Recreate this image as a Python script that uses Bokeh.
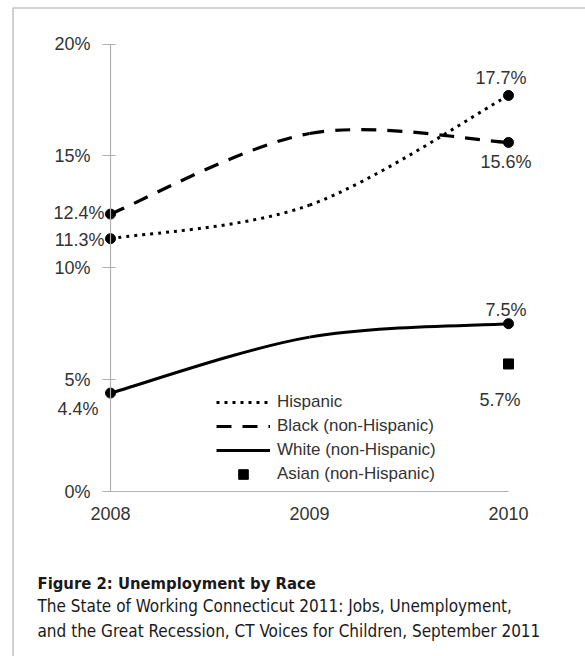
from bokeh.plotting import figure
from bokeh.models import (ColumnDataSource, FixedTicker, Legend, LegendItem, Label,
                          BoxAnnotation, Range1d)
from bokeh.embed import file_html
from bokeh.resources import INLINE
from bokeh.core.properties import value

# ---------------- data ----------------
years = [2008, 2009, 2010]
hispanic = [11.3, 12.8, 17.7]
black = [12.4, 16.0, 15.6]
white = [4.4, 6.9, 7.5]
asian_years = [2010]
asian = [5.7]
series_names = ["Hispanic", "Black (non-Hispanic)", "White (non-Hispanic)", "Asian (non-Hispanic)"]
y_ticks = [0, 5, 10, 15, 20]
y_tick_labels = ["0%", "5%", "10%", "15%", "20%"]
x_ticks = [2008, 2009, 2010]
x_tick_labels = ["2008", "2009", "2010"]
title_text = "Figure 2: Unemployment by Race"
caption_lines = ["The State of Working Connecticut 2011: Jobs, Unemployment,",
                 "and the Great Recession, CT Voices for Children, September 2011"]

# ---------------- layout ----------------
W, H = 585, 656
PX_2008, PX_2010 = 110.0, 508.0      # screen x of first/last year
PX_Y0, PX_Y20 = 491.0, 43.5          # screen y of 0% and 20%
px_per_year = (PX_2010 - PX_2008) / (x_ticks[-1] - x_ticks[0])
px_per_pct = (PX_Y0 - PX_Y20) / (y_ticks[-1] - y_ticks[0])
x_start = x_ticks[0] - PX_2008 / px_per_year
x_end = x_start + W / px_per_year
y_end = y_ticks[-1] + PX_Y20 / px_per_pct
y_start = y_end - H / px_per_pct

def xdata(px):
    return x_start + px / px_per_year

def ydata(py):
    return y_end - py / px_per_pct

TXT = "#333333"
FONT = "Liberation Sans"
CAP_FONT = "DejaVu Sans Condensed"

p = figure(width=W, height=H, output_backend="svg", toolbar_location=None,
           x_range=Range1d(x_start, x_end), y_range=Range1d(y_start, y_end),
           min_border=0, min_border_left=0, min_border_right=0,
           min_border_top=0, min_border_bottom=0)
p.outline_line_color = None
p.xgrid.visible = False
p.ygrid.visible = False
p.background_fill_color = "white"
p.border_fill_color = "white"

# axes at fixed locations inside the frame
ya = p.yaxis[0]
ya.fixed_location = x_ticks[0]
ya.ticker = FixedTicker(ticks=y_ticks)
ya.major_label_overrides = {t: l for t, l in zip(y_ticks, y_tick_labels)}
ya.bounds = (y_ticks[0], y_ticks[-1])
ya.axis_line_color = "#b0b0b0"
ya.axis_line_width = 1.2
ya.major_tick_line_color = "#b0b0b0"
ya.major_tick_line_width = 1.2
ya.major_tick_in = 5
ya.major_tick_out = 8
ya.minor_tick_line_color = None
ya.major_label_standoff = 12
ya.major_label_text_font = FONT
ya.major_label_text_font_size = "18px"
ya.major_label_text_color = TXT

xa = p.xaxis[0]
xa.fixed_location = y_ticks[0]
xa.ticker = FixedTicker(ticks=x_ticks)
xa.major_label_overrides = {t: l for t, l in zip(x_ticks, x_tick_labels)}
xa.bounds = (x_ticks[0], x_ticks[-1])
xa.axis_line_color = "#b0b0b0"
xa.axis_line_width = 1.2
xa.major_tick_line_color = None
xa.major_tick_in = 0
xa.major_tick_out = 0
xa.minor_tick_line_color = None
xa.major_label_standoff = 15
xa.major_label_text_font = FONT
xa.major_label_text_font_size = "18px"
xa.major_label_text_color = TXT

# border box (only top & left visible)
p.add_layout(BoxAnnotation(left=xdata(12.5), top=ydata(7.5), right=x_end + 1, bottom=y_start - 1,
                           fill_alpha=0, line_color="#3a3a3a", line_width=1.6))

# ---------------- smooth curves (Bezier from data) ----------------
def bezier_source(xs, ys):
    n = len(xs)
    c = lambda a, i: a[min(max(i, 0), n - 1)]
    d = dict(x0=[], y0=[], x1=[], y1=[], cx0=[], cy0=[], cx1=[], cy1=[])
    for i in range(n - 1):
        d["x0"].append(xs[i]); d["y0"].append(ys[i])
        d["x1"].append(xs[i + 1]); d["y1"].append(ys[i + 1])
        d["cx0"].append(xs[i] + (c(xs, i + 1) - c(xs, i - 1)) / 6)
        d["cy0"].append(ys[i] + (c(ys, i + 1) - c(ys, i - 1)) / 6)
        d["cx1"].append(xs[i + 1] - (c(xs, i + 2) - c(xs, i)) / 6)
        d["cy1"].append(ys[i + 1] - (c(ys, i + 2) - c(ys, i)) / 6)
    return ColumnDataSource(d)

styles = [dict(line_dash="3 5", line_width=3),
          dict(line_dash="15 11", line_width=3.2),
          dict(line_dash="solid", line_width=3)]
renderers = []
for ys, st in zip([hispanic, black, white], styles):
    r = p.bezier(x0="x0", y0="y0", x1="x1", y1="y1", cx0="cx0", cy0="cy0", cx1="cx1", cy1="cy1",
                 source=bezier_source(years, ys), line_color="black", **st)
    renderers.append(r)

# endpoint markers
ends = [0, len(years) - 1]
for ys in [hispanic, black, white]:
    p.scatter(x=[years[i] for i in ends], y=[ys[i] for i in ends], marker="circle",
              size=10, color="black")
r_asian = p.scatter(x=asian_years, y=asian, marker="square", size=10, color="black")
renderers.append(r_asian)

# ---------------- data labels ----------------
# (dx, dy, align) screen offsets per series for first / last point
label_layout = {
    0: [(-6, 1, "right"), (-7.5, -17, "center")],
    1: [(-6, -1, "right"), (-2.5, 20, "center")],
    2: [(-12, 16, "right"), (-2.5, -14, "center")],
}
lx, ly, lt, ldx, ldy, lal = [], [], [], [], [], []
for si, ys in enumerate([hispanic, black, white]):
    for k, i in enumerate(ends):
        dx, dy, al = label_layout[si][k]
        lx.append(years[i]); ly.append(ys[i]); lt.append(f"{ys[i]:.1f}%")
        ldx.append(dx); ldy.append(dy); lal.append(al)
for xv, yv in zip(asian_years, asian):
    lx.append(xv); ly.append(yv); lt.append(f"{yv:.1f}%")
    ldx.append(-8.5); ldy.append(36); lal.append("center")
lsrc = ColumnDataSource(dict(x=lx, y=ly, text=lt, dx=ldx, dy=ldy, align=lal))
p.text(x="x", y="y", text="text", source=lsrc, x_offset="dx", y_offset="dy",
       text_align="align", text_baseline="middle", text_font=value(FONT),
       text_font_size="18px", text_color=TXT)

# ---------------- legend ----------------
legend = Legend(items=[LegendItem(label=n, renderers=[r]) for n, r in zip(series_names, renderers)],
                location=(216, 170), orientation="vertical",
                glyph_width=54, glyph_height=24, label_height=24, spacing=0,
                padding=0, margin=0, label_standoff=7,
                label_text_font=FONT, label_text_font_size="17px", label_text_color=TXT,
                border_line_color=None, background_fill_alpha=0)
p.add_layout(legend)

# ---------------- caption ----------------
p.add_layout(Label(x=37, y=H - 582.7, x_units="screen", y_units="screen", text=title_text,
                   text_font=CAP_FONT, text_font_style="bold", text_font_size="16.5px",
                   text_color="#1a1a1a", text_baseline="alphabetic"))
for k, line in enumerate(caption_lines):
    p.add_layout(Label(x=37, y=H - (605 + 25.7 * k), x_units="screen", y_units="screen", text=line,
                       text_font=CAP_FONT, text_font_size="17px",
                       text_color="#1a1a1a", text_baseline="alphabetic"))

open("out.html", "w").write(file_html(p, INLINE))
